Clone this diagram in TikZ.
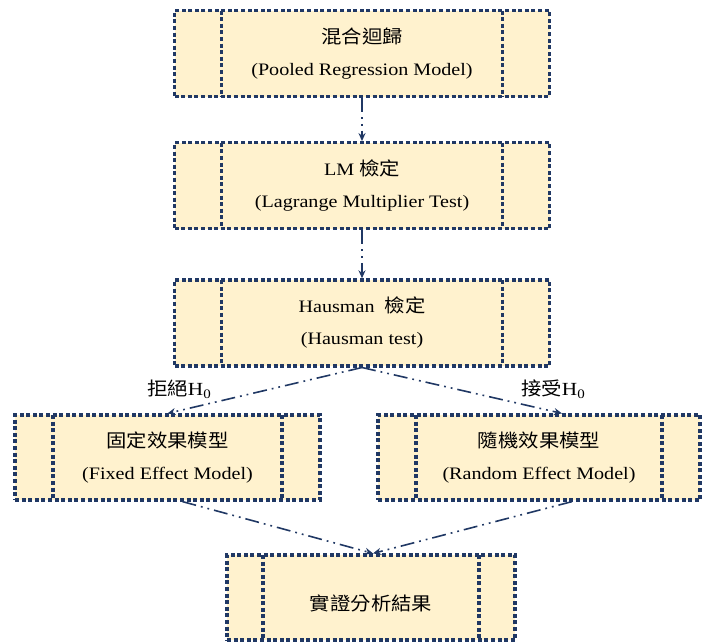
\documentclass[tikz,border=0pt]{standalone}
\usepackage{fontspec}
\setmainfont[FakeStretch=1.15]{Liberation Serif}
\newfontfamily\cjk[FakeStretch=1.1]{Noto Sans CJK TC}
\usetikzlibrary{arrows.meta}
\usetikzlibrary{positioning}
\definecolor{boxfill}{RGB}{255,242,206}
\definecolor{navy}{RGB}{32,56,100}
\tikzset {
  dotted border/.style = {
    draw = navy,
    line width = 3.2pt,
    dash pattern = on 4pt off 2.6pt
  },
  % process box with a bar near each side
  procbox/.style = {
    dotted border,
    fill = boxfill,
    rectangle,
    inner sep = 0,
    minimum height = 86pt,
    align = center,
    font = \fontsize{17.5}{32}\selectfont,
    execute at begin node = {\rule{0pt}{27pt}},
    path picture = {
      \draw[dotted border]
      ([xshift=#1]path picture bounding box.north west)
      -- ([xshift=#1]path picture bounding box.south west);
      \draw[dotted border]
      ([xshift=-#1]path picture bounding box.north east)
      -- ([xshift=-#1]path picture bounding box.south east);
    }
  },
  % dash-dot-dot connector
  flow/.style = {
    draw = navy,
    line width = 1.6pt,
    dash pattern = on 14pt off 5pt on 1.8pt off 5pt on 1.8pt off 5pt,
    -{Stealth[length=8pt,width=7pt]}
  },
  decision/.style = {
    font = \fontsize{18.5}{20}\selectfont
  },
  node distance = 43pt
}
\begin{document}
\begin{tikzpicture}[x=1pt, y=-1pt]
    \useasboundingbox (0,0) rectangle (703,643);

    \node[procbox=47pt, minimum width=375pt] (pooled) at (362,53.5)
    {{\cjk\fontsize{18.5}{32}\selectfont 混合迴歸}\\(Pooled Regression Model)};
    \node[procbox=47pt, minimum width=375pt] (lm) [below=of pooled]
    {LM {\cjk\fontsize{18.5}{32}\selectfont 檢定}\\(Lagrange Multiplier Test)};
    \node[procbox=47pt, minimum width=375pt] (hausman) [below=48pt of lm]
    {Hausman\ \ {\cjk\fontsize{18.5}{32}\selectfont 檢定}\\(Hausman test)};
    \node[procbox=38pt, minimum width=305pt, minimum height=85pt] (fixed) at (167.5,457.5)
    {{\cjk\fontsize{18.5}{32}\selectfont 固定效果模型}\\(Fixed Effect Model)};
    \node[procbox=38pt, minimum width=322pt, minimum height=85pt] (random) at (539,457.5)
    {{\cjk\fontsize{18.5}{32}\selectfont 隨機效果模型}\\(Random Effect Model)};
    \node[procbox=36pt, minimum width=288pt, minimum height=85pt] (result) at (371,597.5)
    {{\cjk\fontsize{18.5}{32}\selectfont 實證分析結果}};

    \node[decision] (reject) at (179,389)
    {{\cjk 拒絕}H\raisebox{-3pt}{\fontsize{13}{13}\selectfont 0}};
    \node[decision] (accept) at (553,389)
    {{\cjk 接受}H\raisebox{-3pt}{\fontsize{13}{13}\selectfont 0}};

    \draw[flow] (pooled) -- (lm);
    \draw[flow] (lm) -- (hausman);
    \draw[flow] (hausman.south) -- (fixed.north);
    \draw[flow] (hausman.south) -- ([xshift=23pt]random.north);
    \draw[flow] ([xshift=15pt]fixed.south) -- ([xshift=2pt]result.north);
    \draw[flow] ([xshift=33pt]random.south) -- ([xshift=2pt]result.north);
  \end{tikzpicture}
\end{document}
